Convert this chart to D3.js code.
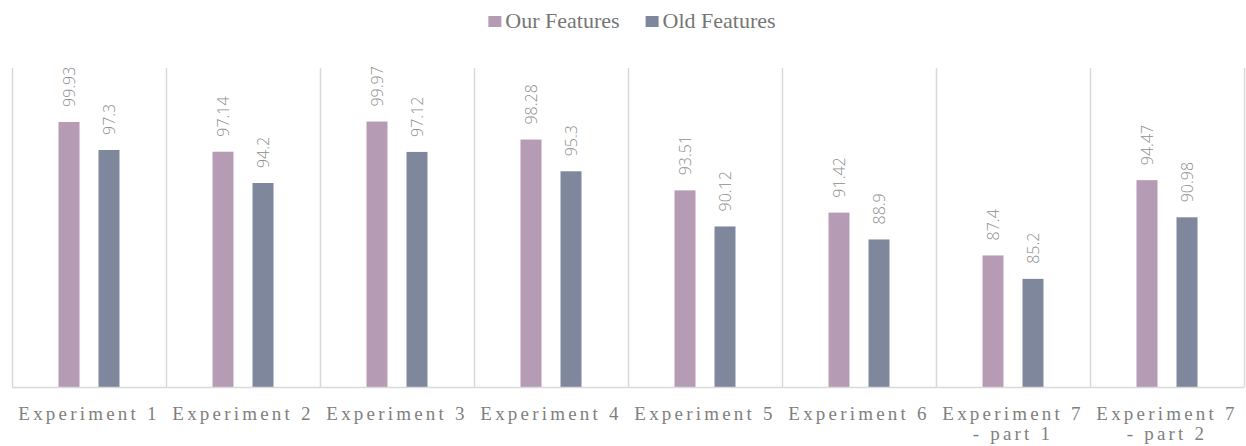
<!DOCTYPE html>
<html><head><meta charset="utf-8">
<script src="https://cdn.jsdelivr.net/npm/d3@7"></script>
<style>body{margin:0;background:#fff;}svg{display:block;}</style>
</head><body>
<svg id="c" width="1246" height="446"></svg>
<script>
const categories = ["Experiment 1","Experiment 2","Experiment 3","Experiment 4","Experiment 5","Experiment 6","Experiment 7\n- part 1","Experiment 7\n- part 2"];
const seriesNames = ["Our Features","Old Features"];
const ourFeatures = [99.93,97.14,99.97,98.28,93.51,91.42,87.4,94.47];
const oldFeatures = [97.3,94.2,97.12,95.3,90.12,88.9,85.2,90.98];
const colors = ["#b59bb4","#7f879c"];
const yDomain = [75,105];

(function(){
const svg = d3.select("#c");
const pL=12,pR=1244,pT=68,pB=387.5;
const x0 = d3.scaleBand().domain(categories).range([pL,pR]).padding(0);
const bw = x0.bandwidth();
const x1 = d3.scaleBand().domain(seriesNames).range([bw/2-30.5,bw/2+30.5]).paddingInner(0.475).paddingOuter(0);
const y = d3.scaleLinear().domain(yDomain).range([pB,pT]);

const seps = categories.map(c=>x0(c)).concat([pR]);
svg.append("g").selectAll("line").data(seps).join("line")
  .attr("x1",d=>Math.round(d)+0.5).attr("x2",d=>Math.round(d)+0.5)
  .attr("y1",pT).attr("y2",pB)
  .attr("stroke","#d9d9d9").attr("stroke-width",1.5);

const data = categories.map((c,i)=>({cat:c, vals:[ourFeatures[i],oldFeatures[i]]}));
const g = svg.append("g").selectAll("g").data(data).join("g").attr("transform",d=>`translate(${x0(d.cat)},0)`);
g.selectAll("rect").data(d=>d.vals.map((v,j)=>({s:seriesNames[j],v,j}))).join("rect")
  .attr("x",d=>x1(d.s)).attr("width",x1.bandwidth())
  .attr("y",d=>y(d.v)).attr("height",d=>pB-y(d.v))
  .attr("fill",d=>colors[d.j]);
g.selectAll("text").data(d=>d.vals.map((v,j)=>({s:seriesNames[j],v,j}))).join("text")
  .attr("transform",d=>`translate(${x1(d.s)+x1.bandwidth()/2+0.5},${y(d.v)-15}) rotate(-90)`)
  .attr("dy","0.36em")
  .attr("font-family","'Open Sans', sans-serif").attr("font-weight",300)
  .attr("font-size",16).attr("fill","#8f8f8f")
  .text(d=>d.v);

svg.append("line").attr("x1",pL).attr("x2",pR).attr("y1",pB).attr("y2",pB)
  .attr("stroke","#d9d9d9").attr("stroke-width",1.5);

const xl = svg.append("g").selectAll("text").data(categories).join("text")
  .attr("y",420)
  .attr("text-anchor","middle")
  .attr("font-family","'Liberation Serif', 'Times New Roman', serif")
  .attr("font-size",19).attr("letter-spacing","3.2px").attr("fill","#7f7f7f");
xl.each(function(d){
  const t=d3.select(this);
  d.split("\n").forEach((line,i)=>{
    t.append("tspan").attr("x",x0(d)+bw/2).attr("dy",i?20:0).text(line);
  });
});

const leg = svg.append("g");
const items = [];
seriesNames.forEach((s,i)=>{
  const it = leg.append("g");
  it.append("rect").attr("x",0).attr("y",16).attr("width",13).attr("height",11).attr("fill",colors[i]);
  const t = it.append("text").attr("x",17).attr("y",28)
    .attr("font-family","'Liberation Serif', 'Times New Roman', serif")
    .attr("font-size",22).attr("fill","#767676").text(s);
  items.push({it,w:17+t.node().getComputedTextLength()});
});
const total = items.reduce((a,b)=>a+b.w,0)+26;
let cx = 632 - total/2;
items.forEach(o=>{o.it.attr("transform",`translate(${cx},0)`); cx+=o.w+26;});
})();
</script>
</body></html>
